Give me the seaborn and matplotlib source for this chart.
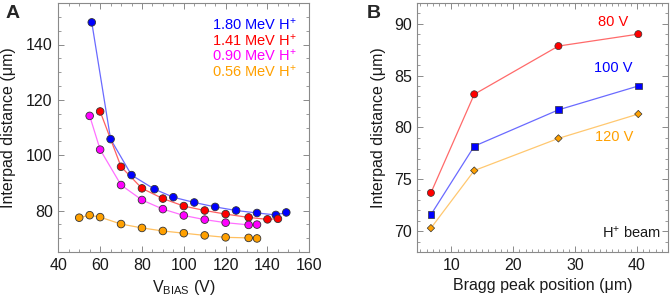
import numpy as np
import pandas as pd
import matplotlib
matplotlib.use("Agg")
import matplotlib.pyplot as plt
from matplotlib.ticker import MultipleLocator
import seaborn as sns

# ---------- Panel A data: interpad distance vs bias voltage ----------
v_180 = [56, 65, 75, 86, 95, 105, 115, 125, 135, 144, 149]
d_180 = [148.0, 105.8, 92.8, 87.7, 84.8, 82.9, 81.3, 80.0, 79.1, 78.4, 79.3]

v_141 = [60, 70, 80, 90, 100, 110, 120, 131, 140, 145]
d_141 = [115.8, 95.8, 88.0, 84.3, 81.6, 80.0, 78.7, 77.5, 76.8, 77.0]

v_090 = [55, 60, 70, 80, 90, 100, 110, 120, 131, 135]
d_090 = [114.2, 102.0, 89.2, 83.8, 80.5, 78.2, 76.7, 75.6, 74.8, 74.9]

v_056 = [50, 55, 60, 70, 80, 90, 100, 110, 120, 131, 135]
d_056 = [77.4, 78.3, 77.6, 75.1, 73.7, 72.6, 71.8, 71.0, 70.3, 70.1, 69.9]

energies = ["1.80", "1.41", "0.90", "0.56"]

# ---------- Panel B data: interpad distance vs Bragg peak position ----------
bragg_pos = [6.7, 13.7, 27.3, 40.2]
d_80v = [73.7, 83.2, 87.85, 89.0]
d_100v = [71.6, 78.2, 81.7, 84.0]
d_120v = [70.3, 75.85, 78.95, 81.3]
voltages = ["80 V", "100 V", "120 V"]

# ---------- Style ----------
sns.set_theme(style="ticks")
plt.rcParams["font.family"] = ["Liberation Sans", "DejaVu Sans"]
plt.rcParams["mathtext.fontset"] = "custom"
plt.rcParams["mathtext.rm"] = "Liberation Sans"
plt.rcParams["mathtext.it"] = "Liberation Sans:italic"
plt.rcParams["mathtext.bf"] = "Liberation Sans:bold"

mark_cols_a = ["#0000ff", "#ff0000", "#ff00ff", "#ffa000"]
line_cols_a = ["#6a6aff", "#ff6060", "#ff70ff", "#ffc060"]
mark_cols_b = ["#ff0000", "#0000ff", "#ffa000"]
line_cols_b = ["#ff6a6a", "#6a6aff", "#ffc870"]
spine_col = "#8a8a8a"
txt_col = "#1a1a1a"

df_a = pd.concat([
    pd.DataFrame({"V": v, "d": d, "E": e})
    for v, d, e in zip([v_180, v_141, v_090, v_056], [d_180, d_141, d_090, d_056], energies)
])
df_b = pd.concat([
    pd.DataFrame({"x": bragg_pos, "d": d, "V": lab})
    for d, lab in zip([d_80v, d_100v, d_120v], voltages)
])

fig = plt.figure(figsize=(6.71, 3.08), dpi=100)
ax_a = fig.add_axes([58.3 / 671, 56 / 308, 251 / 671, 249 / 308])
ax_b = fig.add_axes([417.3 / 671, 56 / 308, 250.7 / 671, 249 / 308])


def style_axes(ax):
    for s in ax.spines.values():
        s.set_color(spine_col)
        s.set_linewidth(0.8)
    ax.tick_params(which="both", direction="in", top=True, right=True,
                   color=spine_col, labelsize=11.5, labelcolor=txt_col, pad=4)
    ax.tick_params(which="major", length=4, width=0.7)
    ax.tick_params(which="minor", length=2, width=0.6)


# ---------- Panel A ----------
sns.lineplot(data=df_a, x="V", y="d", hue="E", palette=line_cols_a, sort=False,
             estimator=None, linewidth=0.9, legend=False, ax=ax_a)
sns.scatterplot(data=df_a, x="V", y="d", hue="E", palette=mark_cols_a, s=30,
                edgecolor="#333333", linewidth=0.6, legend=False, zorder=3, ax=ax_a)
ax_a.set_xlim(40, 160)
ax_a.set_ylim(65, 155)
ax_a.xaxis.set_major_locator(MultipleLocator(20))
ax_a.xaxis.set_minor_locator(MultipleLocator(5))
ax_a.yaxis.set_major_locator(MultipleLocator(20))
ax_a.yaxis.set_minor_locator(MultipleLocator(5))
style_axes(ax_a)
ax_a.set_xlabel(r"V$_{\mathregular{BIAS}}$ (V)", fontsize=11.5, color=txt_col)
ax_a.set_ylabel("Interpad distance (μm)", fontsize=11.5, color=txt_col, labelpad=7)

for i, (e, c) in enumerate(zip(energies, mark_cols_a)):
    ax_a.text(0.951, 0.912 - i * 0.0625, e + r" MeV H$^{+}$", color=c, fontsize=10.5,
              ha="right", va="center", transform=ax_a.transAxes)

# ---------- Panel B ----------
sns.lineplot(data=df_b, x="x", y="d", hue="V", palette=line_cols_b, sort=False,
             estimator=None, linewidth=0.9, legend=False, ax=ax_b)
sns.scatterplot(data=df_b, x="x", y="d", hue="V", style="V", size="V",
                palette=mark_cols_b, markers=["o", "s", "D"],
                sizes={"80 V": 26, "100 V": 24, "120 V": 14},
                edgecolor="#333333", linewidth=0.5, legend=False, zorder=3, ax=ax_b)
ax_b.set_xlim(4.5, 45)
ax_b.set_ylim(68, 92)
ax_b.xaxis.set_major_locator(MultipleLocator(10))
ax_b.xaxis.set_minor_locator(MultipleLocator(1))
ax_b.yaxis.set_major_locator(MultipleLocator(5))
ax_b.yaxis.set_minor_locator(MultipleLocator(1))
style_axes(ax_b)
ax_b.set_xlabel("Bragg peak position (μm)", fontsize=11.5, color=txt_col)
ax_b.set_ylabel("Interpad distance (μm)", fontsize=11.5, color=txt_col, labelpad=6)

label_pos_b = [(0.840, 0.924), (0.860, 0.739), (0.860, 0.462)]
for lab, c, (tx, ty) in zip(voltages, mark_cols_b, label_pos_b):
    ax_b.text(tx, ty, lab, color=c, fontsize=10.5, ha="right", va="center",
              transform=ax_b.transAxes)
ax_b.text(0.972, 0.076, r"H$^{+}$ beam", color=txt_col, fontsize=10.5,
          ha="right", va="center", transform=ax_b.transAxes)

# panel letters
fig.text(0.008, 0.955, "A", fontsize=14, fontweight="bold", va="center")
fig.text(0.547, 0.955, "B", fontsize=14, fontweight="bold", va="center")

fig.savefig("out.png", dpi=100)
